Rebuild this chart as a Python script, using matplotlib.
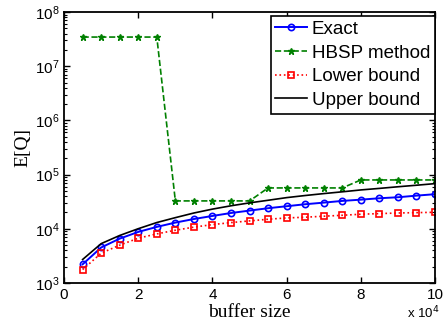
# E[Q] vs buffer size: exact value, HBSP estimate and the two bounds
import numpy as np
import matplotlib.pyplot as plt
from matplotlib.ticker import FuncFormatter, LogLocator, NullFormatter

buffer_size = [5000, 10000, 15000, 20000, 25000, 30000, 35000, 40000, 45000, 50000,
               55000, 60000, 65000, 70000, 75000, 80000, 85000, 90000, 95000, 100000]

exact = [2200, 4500, 6560, 8720, 10800, 12970, 15100, 17200, 19500, 21600,
         23900, 26000, 28300, 30300, 32600, 34400, 36500, 38100, 40800, 43400]

hbsp = [3.46e7, 3.46e7, 3.46e7, 3.46e7, 3.46e7, 32600, 32600, 32600, 32600, 32600,
        56600, 56600, 56600, 56600, 56600, 79500, 79500, 79500, 79500, 79500]

lower = [1760, 3530, 4970, 6680, 8020, 9370, 10700, 11900, 12970, 13930,
         14950, 15800, 16300, 17000, 17700, 18500, 19000, 19500, 19800, 20100]

upper = [2700, 5300, 7500, 10000, 13000, 16000, 19500, 23000, 26500, 30000,
         33500, 37500, 41000, 44500, 48000, 52000, 55500, 59500, 63500, 68000]

plt.rcParams['font.family'] = ['Liberation Sans', 'DejaVu Sans']

fig = plt.figure(figsize=(4.48, 3.27), dpi=100)
ax = fig.add_axes([0.143, 0.135, 0.828, 0.828])

ax.semilogy(buffer_size, exact, 'b-o', lw=1.4, ms=4.5, mfc='none', mew=1.2, label='Exact')
ax.semilogy(buffer_size, hbsp, '--', color='#008000', marker='*', lw=1.2, ms=5,
            label='HBSP method')
ax.semilogy(buffer_size, lower, 'r:s', lw=1.2, ms=4, mfc='none', mew=1.2, label='Lower bound')
ax.semilogy(buffer_size, upper, 'k-', lw=1.2, label='Upper bound')

ax.set_xlim(0, 100000)
ax.set_ylim(1e3, 1e8)
ax.set_xticks([0, 20000, 40000, 60000, 80000, 100000])
ax.xaxis.set_major_formatter(FuncFormatter(lambda v, p: '%d' % round(v / 1e4)))
ax.yaxis.set_major_locator(LogLocator(base=10, numticks=10))
ax.yaxis.set_minor_locator(LogLocator(base=10, subs=np.arange(2, 10), numticks=10))
ax.yaxis.set_minor_formatter(NullFormatter())

ax.tick_params(which='both', direction='in', top=True, right=True, labelsize=11)
ax.tick_params(which='major', length=4, width=1)
ax.tick_params(which='minor', length=2, width=0.8)
for s in ax.spines.values():
    s.set_linewidth(1.3)

ax.set_xlabel('buffer size', family='Liberation Serif', fontsize=14, labelpad=2)
ax.set_ylabel('E[Q]', family='Liberation Serif', fontsize=14, labelpad=2)
fig.text(440 / 448, 1 - 313 / 327, r'x 10$^4$', ha='right', va='center', fontsize=9.5)

leg = ax.legend(loc='upper right', fontsize=13.5, handlelength=1.7, handletextpad=0.25,
                labelspacing=0.35, borderpad=0.25, borderaxespad=0.0, fancybox=False,
                framealpha=1, bbox_to_anchor=(1.0, 0.985))
leg.get_frame().set_edgecolor('black')
leg.get_frame().set_linewidth(1.2)

fig.savefig('out.png', dpi=100)
